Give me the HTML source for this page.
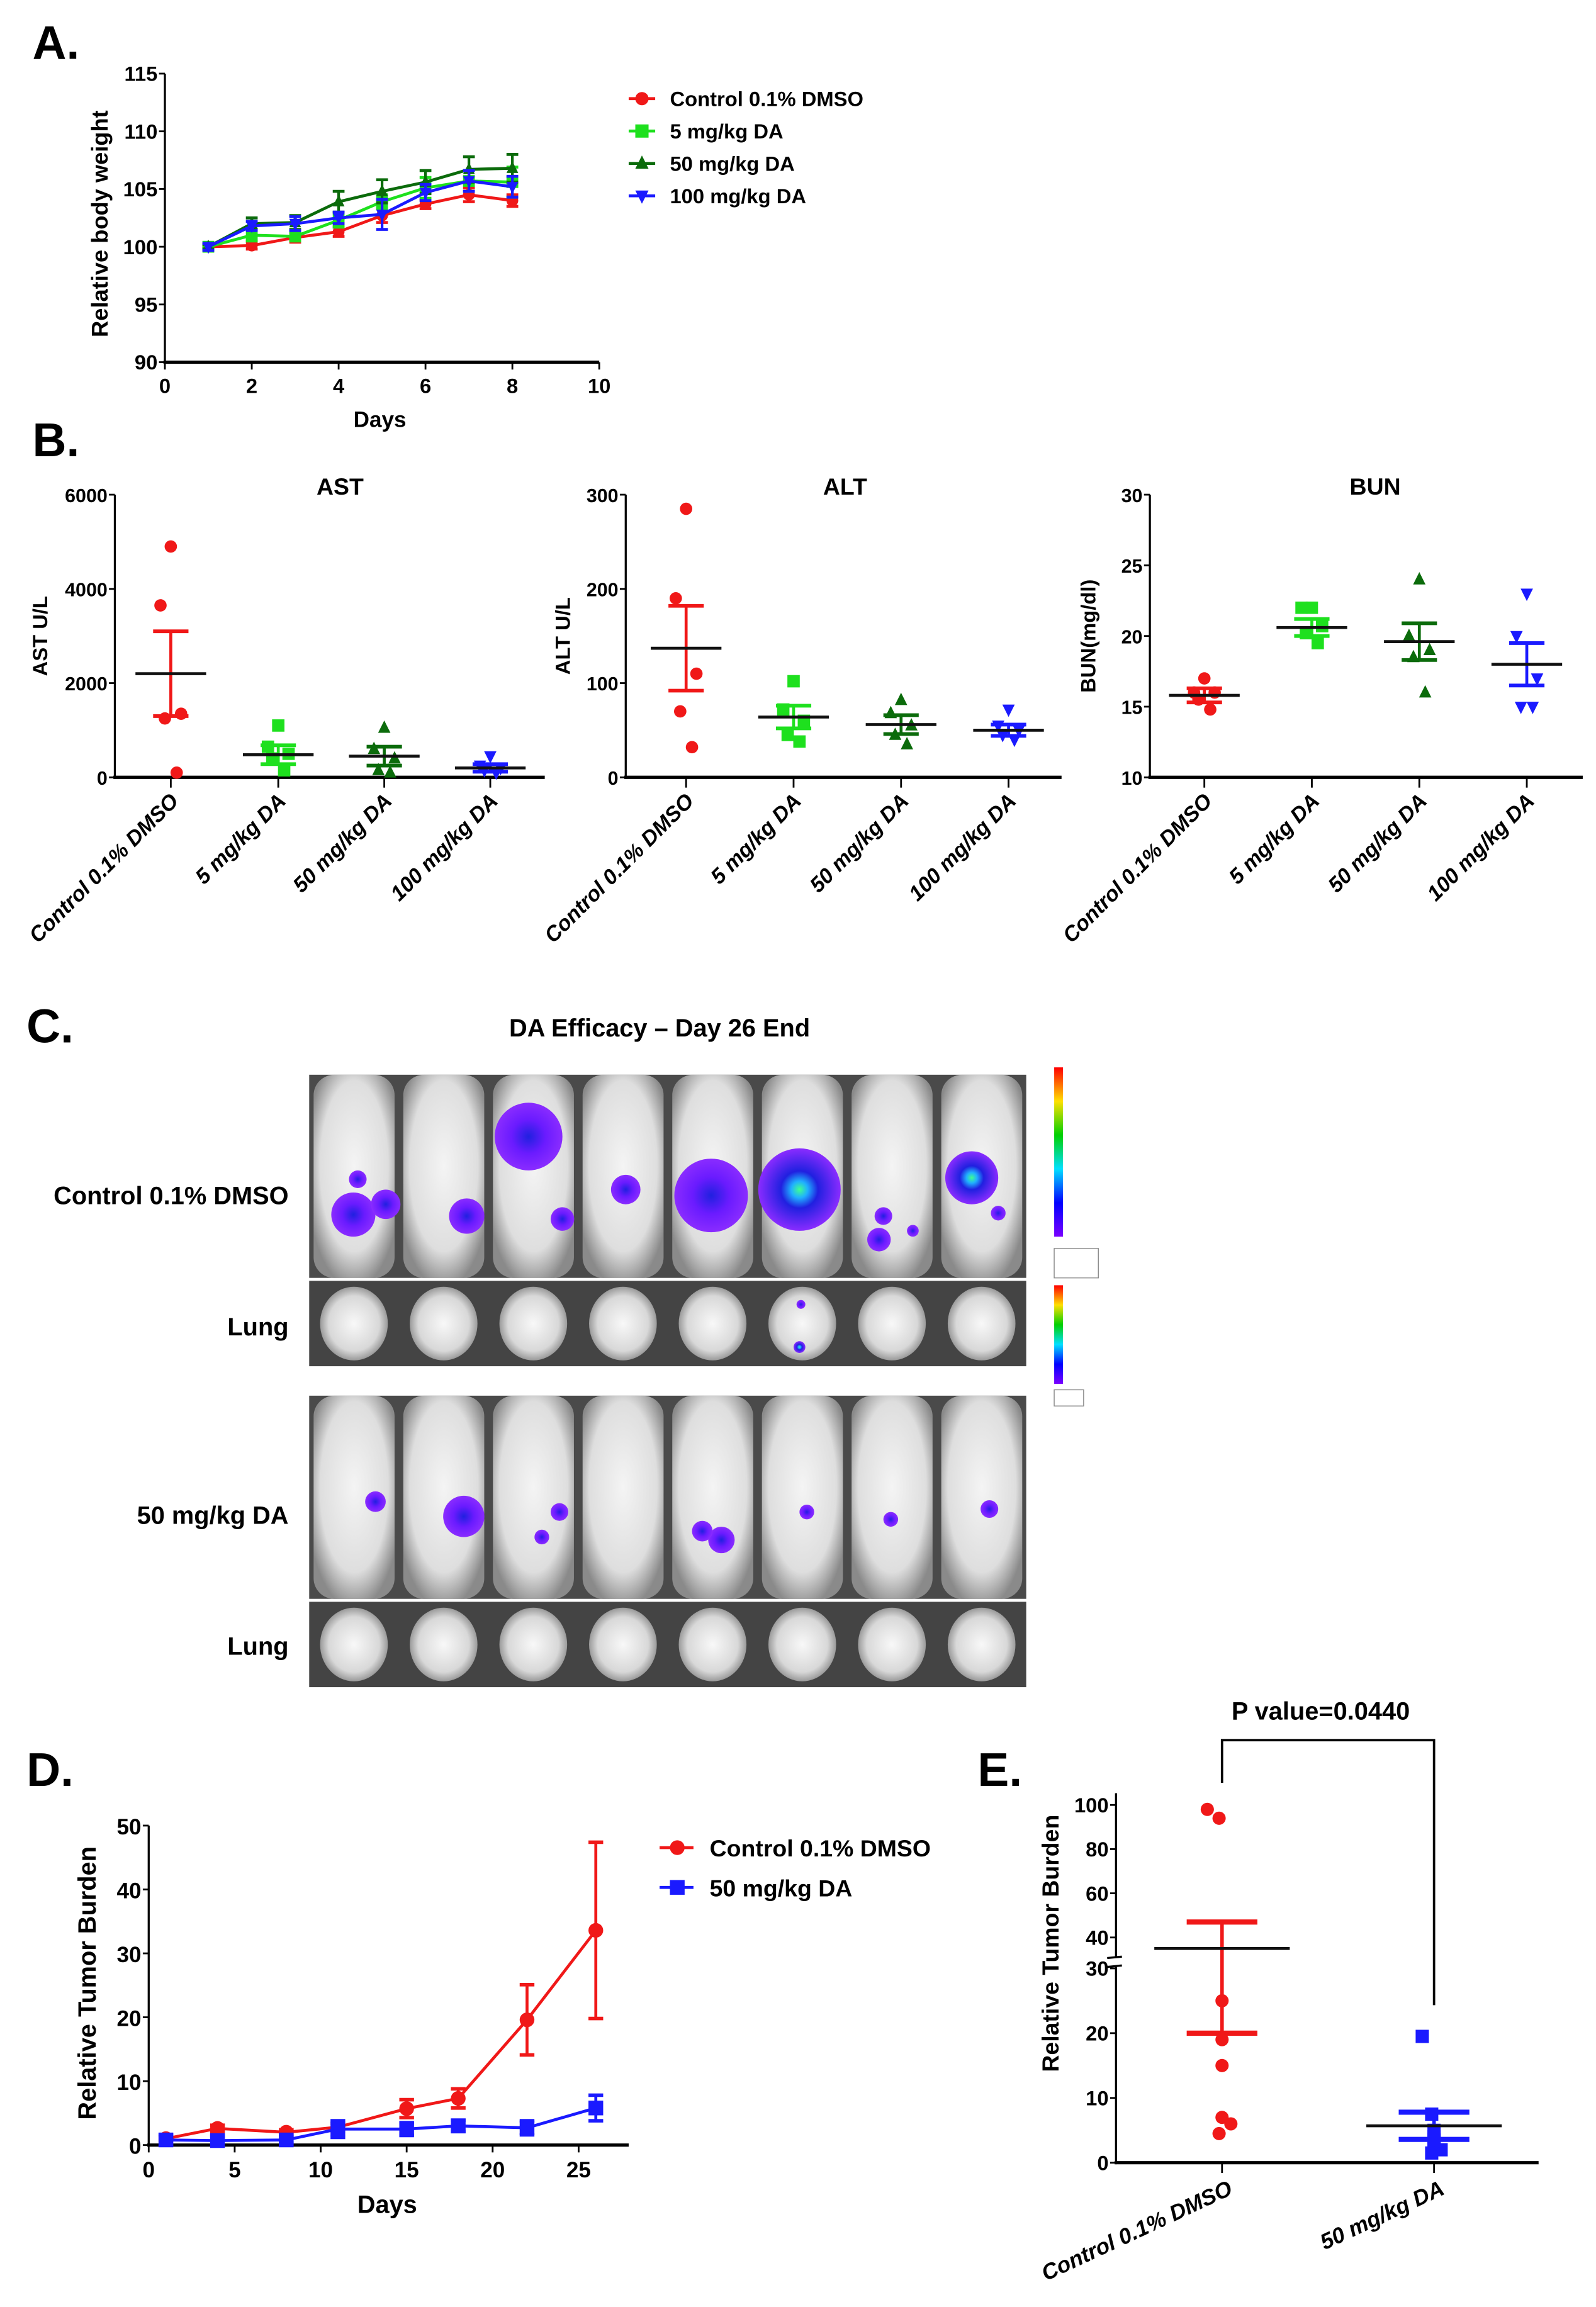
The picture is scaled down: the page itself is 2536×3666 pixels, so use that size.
<!DOCTYPE html>
<html><head><meta charset="utf-8">
<style>
html,body{margin:0;padding:0;background:#fff;}
svg{display:block;}
text{font-family:"Liberation Sans",Arial,sans-serif;font-weight:bold;fill:#000;}
</style></head>
<body>
<svg id="fig" xmlns="http://www.w3.org/2000/svg" width="2536" height="3666" viewBox="0 0 1084 1567" preserveAspectRatio="none">
<rect x="0" y="0" width="1084" height="1567" fill="#fff"/>
<text x="22" y="40" font-size="32">A.</text>
<text x="22" y="310" font-size="32">B.</text>
<text x="18" y="708" font-size="32">C.</text>
<text x="18" y="1213" font-size="32">D.</text>
<text x="664" y="1213" font-size="32">E.</text>
<g id="gA"></g>
<g id="gB"></g>
<g id="gC"></g>
<g id="gD"></g>
<g id="gE"></g>
</svg>
<script>
// ---------- DATA ----------
const daysA = [1,2,3,4,5,6,7,8];
const aControl = [100,100.1,100.8,101.3,102.7,103.7,104.5,104.0];
const aControlErr = [0.2,0.3,0.4,0.4,0.6,0.4,0.6,0.5];
const a5mg = [100,101.0,100.9,102.3,103.9,105.1,105.7,105.6];
const a5mgErr = [0.2,0.5,0.4,0.6,0.6,0.9,0.9,1.3];
const a50mg = [100,102.0,102.1,103.9,104.8,105.6,106.7,106.8];
const a50mgErr = [0.2,0.5,0.6,0.9,1.0,1.0,1.1,1.2];
const a100mg = [100,101.8,102.0,102.5,102.8,104.7,105.7,105.2];
const a100mgErr = [0.3,0.4,0.6,0.5,1.3,0.7,0.9,0.9];
const aXTicks = [0,2,4,6,8,10];
const aYTicks = [90,95,100,105,110,115];
const groupNames = ["Control 0.1% DMSO","5 mg/kg DA","50 mg/kg DA","100 mg/kg DA"];

const astPoints = [[4900,3650,1350,1250,100],[1100,650,500,400,150],[1050,600,400,150,100],[450,250,200,150,100]];
const astMean = [2200,480,450,200];
const astSem = [900,200,200,80];
const altPoints = [[285,190,110,70,32],[102,72,60,45,38],[82,68,55,45,35],[72,55,50,45,40]];
const altMean = [137,64,56,50];
const altSem = [45,12,10,6];
const bunPoints = [[17,16,16,15.5,14.8],[22,22,20.7,20.2,19.5],[24,20,19,18.5,16],[23,20,17,15,15]];
const bunMean = [15.8,20.6,19.6,18.0];
const bunSem = [0.5,0.6,1.3,1.5];
const astTicks = [0,2000,4000,6000];
const altTicks = [0,100,200,300];
const bunTicks = [10,15,20,25,30];

const daysD = [1,4,8,11,15,18,22,26];
const dControl = [1,2.6,2,2.8,5.7,7.3,19.6,33.6];
const dControlErr = [0.3,0.5,0.4,0.6,1.4,1.5,5.5,13.8];
const dDA = [0.8,0.7,0.8,2.5,2.5,3.0,2.7,5.8];
const dDAErr = [0.8,0.7,0.5,1.3,1.0,0.9,1.1,2.0];
const dXTicks = [0,5,10,15,20,25];
const dYTicks = [0,10,20,30,40,50];

const eControl = [98,94,25,19,15,7,6,4.5];
const eDA = [19.5,7.5,5,4,3.5,3.5,2,1.5];
const eMeans = [35,5.7];
const eErrHi = [47,7.8];
const eErrLo = [20,3.6];
const eTopTicks = [40,60,80,100];
const eBotTicks = [0,10,20,30];
const eCats = ["Control 0.1% DMSO","50 mg/kg DA"];

// ---------- helpers ----------
const NS = "http://www.w3.org/2000/svg";
function mk(parent, tag, attrs){
  const e = document.createElementNS(NS, tag);
  for (const k in attrs) e.setAttribute(k, attrs[k]);
  parent.appendChild(e);
  return e;
}
function line(p,x1,y1,x2,y2,c,w,name){
  const e = mk(p,'line',{x1:x1,y1:y1,x2:x2,y2:y2,stroke:c,'stroke-width':w});
  
  
  return e;
}
function txt(p,x,y,s,size,anchor,name,extra){
  const e = mk(p,'text',{x:x,y:y,'font-size':size,'text-anchor':anchor||'start'});
  if (extra) for (const k in extra) e.setAttribute(k, extra[k]);
  e.textContent = s;
  
  
  return e;
}
function marker(p,shape,x,y,c,r,name){
  let e;
  if (shape==='circle') e = mk(p,'circle',{cx:x,cy:y,r:r,fill:c});
  else if (shape==='square') e = mk(p,'rect',{x:x-r,y:y-r,width:2*r,height:2*r,fill:c});
  else if (shape==='up') e = mk(p,'polygon',{points:`${x},${y-r*1.2} ${x-r},${y+r*0.8} ${x+r},${y+r*0.8}`,fill:c});
  else e = mk(p,'polygon',{points:`${x},${y+r*1.2} ${x-r},${y-r*0.8} ${x+r},${y-r*0.8}`,fill:c});
  
  
  return e;
}
const RED="#f01818", LGREEN="#1ee01e", DGREEN="#0b6b0b", BLUE="#1a1aff";
const colors=[RED,LGREEN,DGREEN,BLUE];
const shapes=['circle','square','up','down'];

// ---------- Panel A ----------
(function(){
  const g = document.getElementById('gA');
  const xA = d => 112 + d*29.5;
  const yA = v => 246 - (v-90)*7.84;
  line(g,112,50,112,247,'#000',1.4,'y-axis');
  line(g,111,246,407,246,'#000',2.2,'x-axis');
  aYTicks.forEach(v=>{ line(g,108,yA(v),112,yA(v),'#000',1.2,'y-tick'); txt(g,107,yA(v)+5,String(v),14,'end','y-tick-label'); });
  aXTicks.forEach(v=>{ line(g,xA(v),246,xA(v),251,'#000',1.2,'x-tick'); txt(g,xA(v),267,String(v),14,'middle','x-tick-label'); });
  txt(g,258,290,'Days',15,'middle','x-axis-title');
  txt(g,0,0,'Relative body weight',15.5,'middle','y-axis-title',{transform:'translate(73,152) rotate(-90)'});
  const series=[[aControl,aControlErr],[a5mg,a5mgErr],[a50mg,a50mgErr],[a100mg,a100mgErr]];
  series.forEach((s,i)=>{
    const c=colors[i];
    const pts = daysA.map((d,j)=>`${xA(d)},${yA(s[0][j])}`).join(' ');
    const pl = mk(g,'polyline',{points:pts,fill:'none',stroke:c,'stroke-width':2});
    
    
    daysA.forEach((d,j)=>{
      const x=xA(d), y1=yA(s[0][j]+s[1][j]), y2=yA(s[0][j]-s[1][j]);
      line(g,x,y1,x,y2,c,1.8,'error-bar');
      line(g,x-4,y1,x+4,y1,c,2,'error-cap');
      line(g,x-4,y2,x+4,y2,c,2,'error-cap');
      marker(g,shapes[i],x,yA(s[0][j]),c,4,'series-point');
    });
    const ly = 67 + i*22;
    line(g,427,ly,445,ly,c,2,'legend-line');
    marker(g,shapes[i],436,ly,c,4.5,'legend-marker');
    txt(g,455,ly+5,groupNames[i],14,'start','legend-entry');
  });
})();

// ---------- Panel B ----------
(function(){
  const g = document.getElementById('gB');
  const panels = [
    {ax:78, end:370, cats:[116,189,261,333], pts:astPoints, mean:astMean, sem:astSem, ticks:astTicks, lo:0, hi:6000, title:'AST', tx:231, ytitle:'AST U/L', ytx:32},
    {ax:425, end:721, cats:[466,539,612,685], pts:altPoints, mean:altMean, sem:altSem, ticks:altTicks, lo:0, hi:300, title:'ALT', tx:574, ytitle:'ALT U/L', ytx:387},
    {ax:781, end:1075, cats:[818,891,964,1037], pts:bunPoints, mean:bunMean, sem:bunSem, ticks:bunTicks, lo:10, hi:30, title:'BUN', tx:934, ytitle:'BUN(mg/dl)', ytx:744}
  ];
  const jit=[0,-7,7,-4,4];
  panels.forEach((P,pi)=>{
    const y = v => 528 - (v-P.lo)/(P.hi-P.lo)*192;
    line(g,P.ax,336,P.ax,529,'#000',1.4,'y-axis');
    line(g,P.ax-1,528,P.end,528,'#000',2.2,'x-axis');
    P.ticks.forEach(v=>{ line(g,P.ax-4,y(v),P.ax,y(v),'#000',1.2,'y-tick'); txt(g,P.ax-5,y(v)+5,String(v),13,'end','y-tick-label'); });
    txt(g,P.tx,336,P.title,16,'middle','chart-title');
    txt(g,0,0,P.ytitle,14,'middle','y-axis-title',{transform:`translate(${P.ytx},432) rotate(-90)`});
    P.cats.forEach((cx,ci)=>{
      const c=colors[ci];
      line(g,cx,528,cx,535,'#000',1.2,'x-tick');
      txt(g,0,0,groupNames[ci],14.5,'end','category-label',{transform:`translate(${cx+6},545) rotate(-45)`,'font-style':'italic'});
      P.pts[ci].forEach((v,k)=>{ marker(g,shapes[ci],cx+jit[k],y(v),c,4.2,'scatter-point'); });
      const m=P.mean[ci], s=P.sem[ci];
      line(g,cx,y(m+s),cx,y(m-s),c,2,'sem-bar');
      line(g,cx-12,y(m+s),cx+12,y(m+s),c,2.5,'sem-cap');
      line(g,cx-12,y(m-s),cx+12,y(m-s),c,2.5,'sem-cap');
      line(g,cx-24,y(m),cx+24,y(m),'#111',2,'mean-line');
    });
  });
})();

// ---------- Panel C ----------
(function(){
  const g = document.getElementById('gC');
  txt(g,448,704,'DA Efficacy – Day 26 End',17,'middle','imaging-title');
  const defs = mk(g,'defs',{});
  defs.innerHTML = `<radialGradient id="mouseGrad" cx="50%" cy="45%" r="60%"><stop offset="0" stop-color="#f4f4f4"/><stop offset="0.7" stop-color="#dedede"/><stop offset="1" stop-color="#8a8a8a"/></radialGradient>
  <radialGradient id="blobGrad"><stop offset="0" stop-color="#2020e0"/><stop offset="0.5" stop-color="#6a1bff"/><stop offset="1" stop-color="#8a2cff"/></radialGradient>
  <radialGradient id="hotGrad"><stop offset="0" stop-color="#40ff90"/><stop offset="0.2" stop-color="#20b0ff"/><stop offset="0.45" stop-color="#2020e0"/><stop offset="1" stop-color="#8a2cff"/></radialGradient>
  <radialGradient id="lungGrad" cx="50%" cy="50%" r="50%"><stop offset="0" stop-color="#f8f8f8"/><stop offset="0.75" stop-color="#d8d8d8"/><stop offset="1" stop-color="#9a9a9a"/></radialGradient>
  <linearGradient id="cbar" x1="0" y1="1" x2="0" y2="0"><stop offset="0" stop-color="#7a00ff"/><stop offset="0.2" stop-color="#0000ff"/><stop offset="0.4" stop-color="#00e0ff"/><stop offset="0.6" stop-color="#00d000"/><stop offset="0.8" stop-color="#ffe000"/><stop offset="1" stop-color="#ff0000"/></linearGradient>`;
  const rows=[[730,868,'mouse'],[870,928,'lung'],[948,1086,'mouse'],[1088,1146,'lung']];
  rows.forEach((r,ri)=>{
    const bg = mk(g,'rect',{x:210,y:r[0],width:487,height:r[1]-r[0],fill:r[2]==='mouse'?'#4a4a4a':'#444'});
    
    
    for(let i=0;i<8;i++){
      const x0=210+i*60.9, cx=x0+30.4, h=r[1]-r[0];
      let e;
      if(r[2]==='mouse'){
        e = mk(g,'rect',{x:x0+3,y:r[0],width:55,height:h,rx:14,fill:'url(#mouseGrad)'});
      } else {
        e = mk(g,'ellipse',{cx:cx,cy:r[0]+h/2,rx:23,ry:h/2-4,fill:'url(#lungGrad)'});
      }
      
      
    }
  });
  const blobs=[[240,825,15,0],[262,818,10,0],[243,801,6,0],[317,826,12,0],[359,772,23,0],[382,828,8,0],[425,808,10,0],[483,812,25,0],[543,808,28,1],[597,842,8,0],[600,826,6,0],[620,836,4,0],[660,800,18,1],[678,824,5,0],
    [255,1020,7,0],[315,1030,14,0],[380,1027,6,0],[368,1044,5,0],[490,1046,9,0],[477,1040,7,0],[548,1027,5,0],[605,1032,5,0],[672,1025,6,0],[544,886,3,0],[543,915,4,1]];
  blobs.forEach(b=>{
    const e = mk(g,'circle',{cx:b[0],cy:b[1],r:b[2],fill:b[3]?'url(#hotGrad)':'url(#blobGrad)'});
    
    
  });
  [[716,725,840],[716,873,940]].forEach(cb=>{
    const e = mk(g,'rect',{x:cb[0],y:cb[1],width:6,height:cb[2]-cb[1],fill:'url(#cbar)'});
    
    
  });
  [[716,848,30,20],[716,944,20,11]].forEach(bx=>{
    const e = mk(g,'rect',{x:bx[0],y:bx[1],width:bx[2],height:bx[3],fill:'#fff',stroke:'#888','stroke-width':0.6});
    
    
  });
  txt(g,196,818,'Control 0.1% DMSO',17,'end','row-label');
  txt(g,196,907,'Lung',17,'end','row-label');
  txt(g,196,1035,'50 mg/kg DA',17,'end','row-label');
  txt(g,196,1124,'Lung',17,'end','row-label');
})();

// ---------- Panel D ----------
(function(){
  const g = document.getElementById('gD');
  const xD = d => 101 + d*11.68;
  const yD = v => 1457 - v*4.34;
  line(g,101,1240,101,1458,'#000',1.4,'y-axis');
  line(g,100,1457,427,1457,'#000',2.2,'x-axis');
  dYTicks.forEach(v=>{ line(g,97,yD(v),101,yD(v),'#000',1.2,'y-tick'); txt(g,96,yD(v)+6,String(v),15,'end','y-tick-label'); });
  dXTicks.forEach(v=>{ line(g,xD(v),1457,xD(v),1462,'#000',1.2,'x-tick'); txt(g,xD(v),1479,String(v),15,'middle','x-tick-label'); });
  txt(g,263,1503,'Days',17,'middle','x-axis-title');
  txt(g,0,0,'Relative Tumor Burden',17,'middle','y-axis-title',{transform:'translate(65,1347) rotate(-90)'});
  [[dControl,dControlErr,RED,'circle'],[dDA,dDAErr,BLUE,'square']].forEach((s,i)=>{
    const pts = daysD.map((d,j)=>`${xD(d)},${yD(s[0][j])}`).join(' ');
    const pl = mk(g,'polyline',{points:pts,fill:'none',stroke:s[2],'stroke-width':2});
    
    
    daysD.forEach((d,j)=>{
      const x=xD(d), y1=yD(s[0][j]+s[1][j]), y2=yD(Math.max(0,s[0][j]-s[1][j]));
      line(g,x,y1,x,y2,s[2],2,'error-bar');
      line(g,x-5,y1,x+5,y1,s[2],2.4,'error-cap');
      line(g,x-5,y2,x+5,y2,s[2],2.4,'error-cap');
      marker(g,s[3],x,yD(s[0][j]),s[2],5,'tumor-point');
    });
    const ly = 1255 + i*27;
    line(g,448,ly,471,ly,s[2],2,'legend-line');
    marker(g,s[3],460,ly,s[2],5,'legend-marker');
    txt(g,482,ly+6,i?'50 mg/kg DA':'Control 0.1% DMSO',16,'start','legend-entry');
  });
})();

// ---------- Panel E ----------
(function(){
  const g = document.getElementById('gE');
  const yE = v => v>=35 ? 1316 - (v-40)*1.5 : 1469 - v*4.4;
  line(g,758,1218,758,1330,'#000',1.4,'y-axis-upper');
  line(g,758,1336,758,1470,'#000',1.4,'y-axis-lower');
  line(g,752,1330,762,1329,'#000',1.4,'axis-break');
  line(g,752,1336,762,1335,'#000',1.4,'axis-break');
  line(g,757,1469,1045,1469,'#000',2.2,'x-axis');
  eTopTicks.concat(eBotTicks).forEach(v=>{ line(g,754,yE(v),758,yE(v),'#000',1.2,'y-tick'); txt(g,753,yE(v)+5,String(v),14,'end','y-tick-label'); });
  txt(g,0,0,'Relative Tumor Burden',16,'middle','y-axis-title',{transform:'translate(719,1320) rotate(-90)'});
  const cats=[830,974];
  const jit=[-10,-2,0,0,0,0,6,-2];
  [[eControl,RED,'circle'],[eDA,BLUE,'square']].forEach((s,ci)=>{
    const cx=cats[ci];
    line(g,cx,1469,cx,1476,'#000',1.2,'x-tick');
    txt(g,0,0,eCats[ci],15,'end','category-label',{transform:`translate(${cx+8},1490) rotate(-25)`,'font-style':'italic'});
    s[0].forEach((v,k)=>marker(g,s[2],cx+jit[k]*(ci?0.8:1),yE(v),s[1],4.5,'scatter-point'));
    const hi=yE(eErrHi[ci]), lo=yE(eErrLo[ci]);
    line(g,cx,hi,cx,lo,s[1],2.4,'sem-bar');
    line(g,cx-24,hi,cx+24,hi,s[1],3.5,'sem-cap');
    line(g,cx-24,lo,cx+24,lo,s[1],3.5,'sem-cap');
    line(g,cx-46,yE(eMeans[ci]),cx+46,yE(eMeans[ci]),'#111',2,'mean-line');
  });
  const br = mk(g,'polyline',{points:'830,1211 830,1182 974,1182 974,1362',fill:'none',stroke:'#000','stroke-width':1.6});
  
  
  txt(g,897,1168,'P value=0.0440',17,'middle','p-value-label');
})();
</script>
</body></html>
